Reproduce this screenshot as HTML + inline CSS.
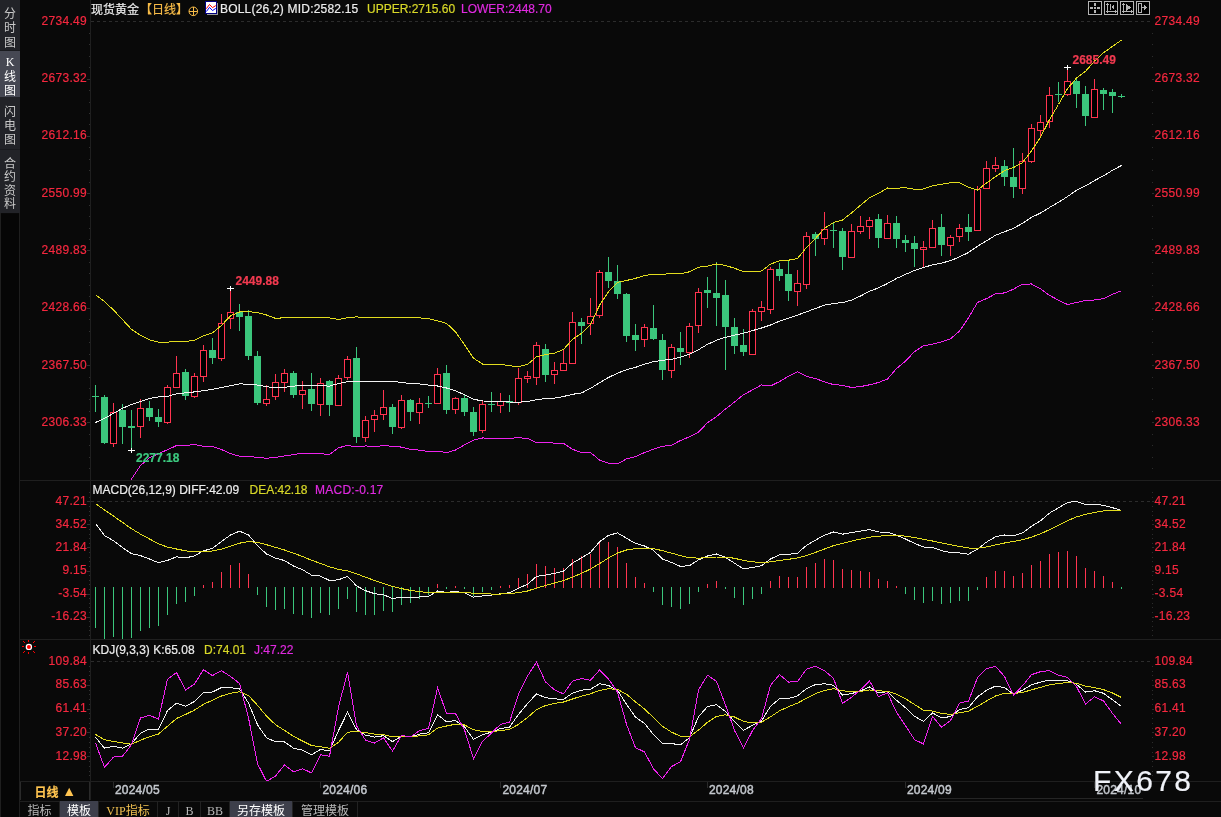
<!DOCTYPE html>
<html><head><meta charset="utf-8"><style>
html,body{margin:0;padding:0;background:#090909;}
#root{position:relative;width:1221px;height:817px;overflow:hidden;background:#090909;font-family:"Liberation Sans","Noto Sans CJK SC",sans-serif;}
.t{position:absolute;white-space:nowrap;font-size:12px;line-height:12px;-webkit-text-stroke:0.2px currentColor;}
.cjk{font-family:"Liberation Sans","Noto Sans CJK SC","WenQuanYi Zen Hei",sans-serif;line-height:14px;}
.side{position:absolute;left:0;width:20px;background:#222328;color:#c8c8c8;font-family:"Liberation Sans","Noto Sans CJK SC",sans-serif;font-size:12px;line-height:13.4px;text-align:center;box-sizing:border-box;}
.side.sel{background:#464853;color:#fff;}
.sc{position:absolute;left:0;width:20px;height:14px;line-height:14px;text-align:center;font-family:"Liberation Sans","Noto Sans CJK SC",sans-serif;font-size:12px;}
.bt{position:absolute;top:801px;height:16px;padding-top:1.5px;font-family:"Liberation Serif","Noto Sans CJK SC",serif;font-size:12px;line-height:16px;text-align:center;color:#b8b8b8;box-sizing:border-box;border-right:1px solid #222;}
.bt.sel{background:#3d3f4b;color:#fff;}
</style></head><body><div id="root">
<svg width="1221" height="817" viewBox="0 0 1221 817" style="position:absolute;left:0;top:0">
<defs><clipPath id="cmain"><rect x="91" y="20" width="1060" height="460"/></clipPath><clipPath id="cmacd"><rect x="91" y="481" width="1060" height="158"/></clipPath><clipPath id="ckdj"><rect x="91" y="640" width="1060" height="141"/></clipPath></defs>
<rect x="0" y="0" width="1221" height="817" fill="#090909"/>
<g shape-rendering="crispEdges" fill="#1f1f1f">
<rect x="19" y="213" width="1" height="604"/>
<rect x="0" y="213" width="1" height="604"/>
<rect x="90" y="0" width="1" height="800"/>
<rect x="20" y="480" width="1201" height="1"/>
<rect x="20" y="639" width="1201" height="1"/>
<rect x="20" y="781" width="1201" height="1"/>
<rect x="20" y="801" width="1201" height="1"/>
<rect x="938" y="798" width="205" height="1" fill="#252525"/>
</g>
<rect x="1" y="214" width="18" height="603" fill="#060606"/>
<line x1="91" y1="21.5" x2="1150" y2="21.5" stroke="#2c2c2c" stroke-width="1" stroke-dasharray="3,3" shape-rendering="crispEdges"/>
<line x1="91" y1="501.5" x2="1150" y2="501.5" stroke="#2c2c2c" stroke-width="1" stroke-dasharray="3,3" shape-rendering="crispEdges"/>
<line x1="91" y1="661.5" x2="1150" y2="661.5" stroke="#2c2c2c" stroke-width="1" stroke-dasharray="3,3" shape-rendering="crispEdges"/>
<g shape-rendering="crispEdges" fill="#3a3a3a">
<rect x="89" y="33" width="1" height="1" fill="#303030"/>
<rect x="1152" y="33" width="1" height="1" fill="#2c2c2c"/>
<rect x="89" y="44" width="1" height="1" fill="#303030"/>
<rect x="1152" y="44" width="1" height="1" fill="#2c2c2c"/>
<rect x="89" y="56" width="1" height="1" fill="#303030"/>
<rect x="1152" y="56" width="1" height="1" fill="#2c2c2c"/>
<rect x="89" y="67" width="1" height="1" fill="#303030"/>
<rect x="1152" y="67" width="1" height="1" fill="#2c2c2c"/>
<rect x="87" y="79" width="3" height="1" fill="#303030"/>
<rect x="1152" y="79" width="2" height="1" fill="#2c2c2c"/>
<rect x="89" y="90" width="1" height="1" fill="#303030"/>
<rect x="1152" y="90" width="1" height="1" fill="#2c2c2c"/>
<rect x="89" y="102" width="1" height="1" fill="#303030"/>
<rect x="1152" y="102" width="1" height="1" fill="#2c2c2c"/>
<rect x="89" y="113" width="1" height="1" fill="#303030"/>
<rect x="1152" y="113" width="1" height="1" fill="#2c2c2c"/>
<rect x="89" y="124" width="1" height="1" fill="#303030"/>
<rect x="1152" y="124" width="1" height="1" fill="#2c2c2c"/>
<rect x="87" y="136" width="3" height="1" fill="#303030"/>
<rect x="1152" y="136" width="2" height="1" fill="#2c2c2c"/>
<rect x="89" y="147" width="1" height="1" fill="#303030"/>
<rect x="1152" y="147" width="1" height="1" fill="#2c2c2c"/>
<rect x="89" y="159" width="1" height="1" fill="#303030"/>
<rect x="1152" y="159" width="1" height="1" fill="#2c2c2c"/>
<rect x="89" y="170" width="1" height="1" fill="#303030"/>
<rect x="1152" y="170" width="1" height="1" fill="#2c2c2c"/>
<rect x="89" y="182" width="1" height="1" fill="#303030"/>
<rect x="1152" y="182" width="1" height="1" fill="#2c2c2c"/>
<rect x="87" y="193" width="3" height="1" fill="#303030"/>
<rect x="1152" y="193" width="2" height="1" fill="#2c2c2c"/>
<rect x="89" y="205" width="1" height="1" fill="#303030"/>
<rect x="1152" y="205" width="1" height="1" fill="#2c2c2c"/>
<rect x="89" y="216" width="1" height="1" fill="#303030"/>
<rect x="1152" y="216" width="1" height="1" fill="#2c2c2c"/>
<rect x="89" y="228" width="1" height="1" fill="#303030"/>
<rect x="1152" y="228" width="1" height="1" fill="#2c2c2c"/>
<rect x="89" y="239" width="1" height="1" fill="#303030"/>
<rect x="1152" y="239" width="1" height="1" fill="#2c2c2c"/>
<rect x="87" y="250" width="3" height="1" fill="#303030"/>
<rect x="1152" y="250" width="2" height="1" fill="#2c2c2c"/>
<rect x="89" y="262" width="1" height="1" fill="#303030"/>
<rect x="1152" y="262" width="1" height="1" fill="#2c2c2c"/>
<rect x="89" y="273" width="1" height="1" fill="#303030"/>
<rect x="1152" y="273" width="1" height="1" fill="#2c2c2c"/>
<rect x="89" y="285" width="1" height="1" fill="#303030"/>
<rect x="1152" y="285" width="1" height="1" fill="#2c2c2c"/>
<rect x="89" y="296" width="1" height="1" fill="#303030"/>
<rect x="1152" y="296" width="1" height="1" fill="#2c2c2c"/>
<rect x="87" y="308" width="3" height="1" fill="#303030"/>
<rect x="1152" y="308" width="2" height="1" fill="#2c2c2c"/>
<rect x="89" y="319" width="1" height="1" fill="#303030"/>
<rect x="1152" y="319" width="1" height="1" fill="#2c2c2c"/>
<rect x="89" y="331" width="1" height="1" fill="#303030"/>
<rect x="1152" y="331" width="1" height="1" fill="#2c2c2c"/>
<rect x="89" y="342" width="1" height="1" fill="#303030"/>
<rect x="1152" y="342" width="1" height="1" fill="#2c2c2c"/>
<rect x="89" y="354" width="1" height="1" fill="#303030"/>
<rect x="1152" y="354" width="1" height="1" fill="#2c2c2c"/>
<rect x="87" y="365" width="3" height="1" fill="#303030"/>
<rect x="1152" y="365" width="2" height="1" fill="#2c2c2c"/>
<rect x="89" y="377" width="1" height="1" fill="#303030"/>
<rect x="1152" y="377" width="1" height="1" fill="#2c2c2c"/>
<rect x="89" y="388" width="1" height="1" fill="#303030"/>
<rect x="1152" y="388" width="1" height="1" fill="#2c2c2c"/>
<rect x="89" y="399" width="1" height="1" fill="#303030"/>
<rect x="1152" y="399" width="1" height="1" fill="#2c2c2c"/>
<rect x="89" y="411" width="1" height="1" fill="#303030"/>
<rect x="1152" y="411" width="1" height="1" fill="#2c2c2c"/>
<rect x="87" y="422" width="3" height="1" fill="#303030"/>
<rect x="1152" y="422" width="2" height="1" fill="#2c2c2c"/>
<rect x="89" y="434" width="1" height="1" fill="#303030"/>
<rect x="1152" y="434" width="1" height="1" fill="#2c2c2c"/>
<rect x="89" y="445" width="1" height="1" fill="#303030"/>
<rect x="1152" y="445" width="1" height="1" fill="#2c2c2c"/>
<rect x="89" y="457" width="1" height="1" fill="#303030"/>
<rect x="1152" y="457" width="1" height="1" fill="#2c2c2c"/>
<rect x="89" y="468" width="1" height="1" fill="#303030"/>
<rect x="1152" y="468" width="1" height="1" fill="#2c2c2c"/>
<rect x="89" y="492" width="1" height="1" fill="#303030"/>
<rect x="1152" y="492" width="1" height="1" fill="#2c2c2c"/>
<rect x="89" y="497" width="1" height="1" fill="#303030"/>
<rect x="1152" y="497" width="1" height="1" fill="#2c2c2c"/>
<rect x="87" y="501" width="3" height="1" fill="#303030"/>
<rect x="1152" y="501" width="2" height="1" fill="#2c2c2c"/>
<rect x="89" y="506" width="1" height="1" fill="#303030"/>
<rect x="1152" y="506" width="1" height="1" fill="#2c2c2c"/>
<rect x="89" y="511" width="1" height="1" fill="#303030"/>
<rect x="1152" y="511" width="1" height="1" fill="#2c2c2c"/>
<rect x="89" y="515" width="1" height="1" fill="#303030"/>
<rect x="1152" y="515" width="1" height="1" fill="#2c2c2c"/>
<rect x="89" y="520" width="1" height="1" fill="#303030"/>
<rect x="1152" y="520" width="1" height="1" fill="#2c2c2c"/>
<rect x="87" y="524" width="3" height="1" fill="#303030"/>
<rect x="1152" y="524" width="2" height="1" fill="#2c2c2c"/>
<rect x="89" y="529" width="1" height="1" fill="#303030"/>
<rect x="1152" y="529" width="1" height="1" fill="#2c2c2c"/>
<rect x="89" y="534" width="1" height="1" fill="#303030"/>
<rect x="1152" y="534" width="1" height="1" fill="#2c2c2c"/>
<rect x="89" y="538" width="1" height="1" fill="#303030"/>
<rect x="1152" y="538" width="1" height="1" fill="#2c2c2c"/>
<rect x="89" y="543" width="1" height="1" fill="#303030"/>
<rect x="1152" y="543" width="1" height="1" fill="#2c2c2c"/>
<rect x="87" y="547" width="3" height="1" fill="#303030"/>
<rect x="1152" y="547" width="2" height="1" fill="#2c2c2c"/>
<rect x="89" y="552" width="1" height="1" fill="#303030"/>
<rect x="1152" y="552" width="1" height="1" fill="#2c2c2c"/>
<rect x="89" y="557" width="1" height="1" fill="#303030"/>
<rect x="1152" y="557" width="1" height="1" fill="#2c2c2c"/>
<rect x="89" y="561" width="1" height="1" fill="#303030"/>
<rect x="1152" y="561" width="1" height="1" fill="#2c2c2c"/>
<rect x="89" y="566" width="1" height="1" fill="#303030"/>
<rect x="1152" y="566" width="1" height="1" fill="#2c2c2c"/>
<rect x="87" y="571" width="3" height="1" fill="#303030"/>
<rect x="1152" y="571" width="2" height="1" fill="#2c2c2c"/>
<rect x="89" y="575" width="1" height="1" fill="#303030"/>
<rect x="1152" y="575" width="1" height="1" fill="#2c2c2c"/>
<rect x="89" y="580" width="1" height="1" fill="#303030"/>
<rect x="1152" y="580" width="1" height="1" fill="#2c2c2c"/>
<rect x="89" y="584" width="1" height="1" fill="#303030"/>
<rect x="1152" y="584" width="1" height="1" fill="#2c2c2c"/>
<rect x="89" y="589" width="1" height="1" fill="#303030"/>
<rect x="1152" y="589" width="1" height="1" fill="#2c2c2c"/>
<rect x="87" y="594" width="3" height="1" fill="#303030"/>
<rect x="1152" y="594" width="2" height="1" fill="#2c2c2c"/>
<rect x="89" y="598" width="1" height="1" fill="#303030"/>
<rect x="1152" y="598" width="1" height="1" fill="#2c2c2c"/>
<rect x="89" y="603" width="1" height="1" fill="#303030"/>
<rect x="1152" y="603" width="1" height="1" fill="#2c2c2c"/>
<rect x="89" y="607" width="1" height="1" fill="#303030"/>
<rect x="1152" y="607" width="1" height="1" fill="#2c2c2c"/>
<rect x="89" y="612" width="1" height="1" fill="#303030"/>
<rect x="1152" y="612" width="1" height="1" fill="#2c2c2c"/>
<rect x="87" y="617" width="3" height="1" fill="#303030"/>
<rect x="1152" y="617" width="2" height="1" fill="#2c2c2c"/>
<rect x="89" y="621" width="1" height="1" fill="#303030"/>
<rect x="1152" y="621" width="1" height="1" fill="#2c2c2c"/>
<rect x="89" y="626" width="1" height="1" fill="#303030"/>
<rect x="1152" y="626" width="1" height="1" fill="#2c2c2c"/>
<rect x="89" y="630" width="1" height="1" fill="#303030"/>
<rect x="1152" y="630" width="1" height="1" fill="#2c2c2c"/>
<rect x="89" y="635" width="1" height="1" fill="#303030"/>
<rect x="1152" y="635" width="1" height="1" fill="#2c2c2c"/>
<rect x="89" y="666" width="1" height="1" fill="#303030"/>
<rect x="1152" y="666" width="1" height="1" fill="#2c2c2c"/>
<rect x="89" y="671" width="1" height="1" fill="#303030"/>
<rect x="1152" y="671" width="1" height="1" fill="#2c2c2c"/>
<rect x="89" y="675" width="1" height="1" fill="#303030"/>
<rect x="1152" y="675" width="1" height="1" fill="#2c2c2c"/>
<rect x="89" y="680" width="1" height="1" fill="#303030"/>
<rect x="1152" y="680" width="1" height="1" fill="#2c2c2c"/>
<rect x="87" y="685" width="3" height="1" fill="#303030"/>
<rect x="1152" y="685" width="2" height="1" fill="#2c2c2c"/>
<rect x="89" y="690" width="1" height="1" fill="#303030"/>
<rect x="1152" y="690" width="1" height="1" fill="#2c2c2c"/>
<rect x="89" y="694" width="1" height="1" fill="#303030"/>
<rect x="1152" y="694" width="1" height="1" fill="#2c2c2c"/>
<rect x="89" y="699" width="1" height="1" fill="#303030"/>
<rect x="1152" y="699" width="1" height="1" fill="#2c2c2c"/>
<rect x="89" y="704" width="1" height="1" fill="#303030"/>
<rect x="1152" y="704" width="1" height="1" fill="#2c2c2c"/>
<rect x="87" y="709" width="3" height="1" fill="#303030"/>
<rect x="1152" y="709" width="2" height="1" fill="#2c2c2c"/>
<rect x="89" y="713" width="1" height="1" fill="#303030"/>
<rect x="1152" y="713" width="1" height="1" fill="#2c2c2c"/>
<rect x="89" y="718" width="1" height="1" fill="#303030"/>
<rect x="1152" y="718" width="1" height="1" fill="#2c2c2c"/>
<rect x="89" y="723" width="1" height="1" fill="#303030"/>
<rect x="1152" y="723" width="1" height="1" fill="#2c2c2c"/>
<rect x="89" y="728" width="1" height="1" fill="#303030"/>
<rect x="1152" y="728" width="1" height="1" fill="#2c2c2c"/>
<rect x="87" y="732" width="3" height="1" fill="#303030"/>
<rect x="1152" y="732" width="2" height="1" fill="#2c2c2c"/>
<rect x="89" y="737" width="1" height="1" fill="#303030"/>
<rect x="1152" y="737" width="1" height="1" fill="#2c2c2c"/>
<rect x="89" y="742" width="1" height="1" fill="#303030"/>
<rect x="1152" y="742" width="1" height="1" fill="#2c2c2c"/>
<rect x="89" y="747" width="1" height="1" fill="#303030"/>
<rect x="1152" y="747" width="1" height="1" fill="#2c2c2c"/>
<rect x="89" y="752" width="1" height="1" fill="#303030"/>
<rect x="1152" y="752" width="1" height="1" fill="#2c2c2c"/>
<rect x="87" y="756" width="3" height="1" fill="#303030"/>
<rect x="1152" y="756" width="2" height="1" fill="#2c2c2c"/>
<rect x="89" y="761" width="1" height="1" fill="#303030"/>
<rect x="1152" y="761" width="1" height="1" fill="#2c2c2c"/>
<rect x="89" y="766" width="1" height="1" fill="#303030"/>
<rect x="1152" y="766" width="1" height="1" fill="#2c2c2c"/>
<rect x="89" y="771" width="1" height="1" fill="#303030"/>
<rect x="1152" y="771" width="1" height="1" fill="#2c2c2c"/>
<rect x="89" y="775" width="1" height="1" fill="#303030"/>
<rect x="1152" y="775" width="1" height="1" fill="#2c2c2c"/>
</g>
<g shape-rendering="crispEdges">
<rect x="95" y="385" width="1" height="27" fill="#3bc67c"/>
<rect x="92" y="396" width="7" height="1" fill="#3bc67c"/>
<rect x="104" y="395" width="1" height="49" fill="#3bc67c"/>
<rect x="101" y="397" width="7" height="46" fill="#3bc67c"/>
<rect x="113" y="403" width="1" height="9" fill="#ff3450"/>
<rect x="113" y="443" width="1" height="4" fill="#ff3450"/>
<rect x="110.5" y="412.5" width="6" height="31" fill="#000" stroke="#ff3450" stroke-width="1"/>
<rect x="122" y="404" width="1" height="40" fill="#3bc67c"/>
<rect x="119" y="410" width="7" height="17" fill="#3bc67c"/>
<rect x="131" y="410" width="1" height="41" fill="#3bc67c"/>
<rect x="128" y="426" width="7" height="2" fill="#3bc67c"/>
<rect x="140" y="399" width="1" height="9" fill="#ff3450"/>
<rect x="140" y="426" width="1" height="12" fill="#ff3450"/>
<rect x="137.5" y="408.5" width="6" height="18" fill="#000" stroke="#ff3450" stroke-width="1"/>
<rect x="149" y="401" width="1" height="20" fill="#3bc67c"/>
<rect x="146" y="408" width="7" height="9" fill="#3bc67c"/>
<rect x="158" y="409" width="1" height="18" fill="#3bc67c"/>
<rect x="155" y="417" width="7" height="5" fill="#3bc67c"/>
<rect x="167" y="385" width="1" height="2" fill="#ff3450"/>
<rect x="167" y="422" width="1" height="2" fill="#ff3450"/>
<rect x="164.5" y="387.5" width="6" height="35" fill="#000" stroke="#ff3450" stroke-width="1"/>
<rect x="176" y="356" width="1" height="17" fill="#ff3450"/>
<rect x="173.5" y="373.5" width="6" height="14" fill="#000" stroke="#ff3450" stroke-width="1"/>
<rect x="185" y="369" width="1" height="31" fill="#3bc67c"/>
<rect x="182" y="372" width="7" height="24" fill="#3bc67c"/>
<rect x="194" y="373" width="1" height="3" fill="#ff3450"/>
<rect x="194" y="396" width="1" height="2" fill="#ff3450"/>
<rect x="191.5" y="376.5" width="6" height="20" fill="#000" stroke="#ff3450" stroke-width="1"/>
<rect x="203" y="345" width="1" height="5" fill="#ff3450"/>
<rect x="203" y="376" width="1" height="6" fill="#ff3450"/>
<rect x="200.5" y="350.5" width="6" height="26" fill="#000" stroke="#ff3450" stroke-width="1"/>
<rect x="212" y="338" width="1" height="26" fill="#3bc67c"/>
<rect x="209" y="350" width="7" height="8" fill="#3bc67c"/>
<rect x="221" y="314" width="1" height="9" fill="#ff3450"/>
<rect x="221" y="358" width="1" height="3" fill="#ff3450"/>
<rect x="218.5" y="323.5" width="6" height="35" fill="#000" stroke="#ff3450" stroke-width="1"/>
<rect x="230" y="288" width="1" height="24" fill="#ff3450"/>
<rect x="230" y="318" width="1" height="11" fill="#ff3450"/>
<rect x="227.5" y="312.5" width="6" height="6" fill="#000" stroke="#ff3450" stroke-width="1"/>
<rect x="239" y="304" width="1" height="27" fill="#3bc67c"/>
<rect x="236" y="312" width="7" height="5" fill="#3bc67c"/>
<rect x="248" y="310" width="1" height="50" fill="#3bc67c"/>
<rect x="245" y="316" width="7" height="40" fill="#3bc67c"/>
<rect x="257" y="351" width="1" height="54" fill="#3bc67c"/>
<rect x="254" y="356" width="7" height="47" fill="#3bc67c"/>
<rect x="266" y="385" width="1" height="14" fill="#ff3450"/>
<rect x="266" y="403" width="1" height="3" fill="#ff3450"/>
<rect x="263.5" y="399.5" width="6" height="4" fill="#000" stroke="#ff3450" stroke-width="1"/>
<rect x="275" y="374" width="1" height="8" fill="#ff3450"/>
<rect x="275" y="396" width="1" height="4" fill="#ff3450"/>
<rect x="272.5" y="382.5" width="6" height="14" fill="#000" stroke="#ff3450" stroke-width="1"/>
<rect x="284" y="369" width="1" height="4" fill="#ff3450"/>
<rect x="284" y="382" width="1" height="10" fill="#ff3450"/>
<rect x="281.5" y="373.5" width="6" height="9" fill="#000" stroke="#ff3450" stroke-width="1"/>
<rect x="293" y="371" width="1" height="27" fill="#3bc67c"/>
<rect x="290" y="373" width="7" height="22" fill="#3bc67c"/>
<rect x="302" y="381" width="1" height="9" fill="#ff3450"/>
<rect x="302" y="394" width="1" height="15" fill="#ff3450"/>
<rect x="299.5" y="390.5" width="6" height="4" fill="#000" stroke="#ff3450" stroke-width="1"/>
<rect x="311" y="373" width="1" height="38" fill="#3bc67c"/>
<rect x="308" y="389" width="7" height="15" fill="#3bc67c"/>
<rect x="320" y="378" width="1" height="5" fill="#ff3450"/>
<rect x="320" y="404" width="1" height="12" fill="#ff3450"/>
<rect x="317.5" y="383.5" width="6" height="21" fill="#000" stroke="#ff3450" stroke-width="1"/>
<rect x="329" y="380" width="1" height="36" fill="#3bc67c"/>
<rect x="326" y="381" width="7" height="24" fill="#3bc67c"/>
<rect x="338" y="375" width="1" height="3" fill="#ff3450"/>
<rect x="335.5" y="378.5" width="6" height="27" fill="#000" stroke="#ff3450" stroke-width="1"/>
<rect x="347" y="356" width="1" height="3" fill="#ff3450"/>
<rect x="347" y="377" width="1" height="3" fill="#ff3450"/>
<rect x="344.5" y="359.5" width="6" height="18" fill="#000" stroke="#ff3450" stroke-width="1"/>
<rect x="356" y="347" width="1" height="96" fill="#3bc67c"/>
<rect x="353" y="358" width="7" height="79" fill="#3bc67c"/>
<rect x="365" y="416" width="1" height="4" fill="#ff3450"/>
<rect x="365" y="437" width="1" height="5" fill="#ff3450"/>
<rect x="362.5" y="420.5" width="6" height="17" fill="#000" stroke="#ff3450" stroke-width="1"/>
<rect x="374" y="410" width="1" height="5" fill="#ff3450"/>
<rect x="374" y="419" width="1" height="13" fill="#ff3450"/>
<rect x="371.5" y="415.5" width="6" height="4" fill="#000" stroke="#ff3450" stroke-width="1"/>
<rect x="383" y="390" width="1" height="17" fill="#ff3450"/>
<rect x="383" y="414" width="1" height="6" fill="#ff3450"/>
<rect x="380.5" y="407.5" width="6" height="7" fill="#000" stroke="#ff3450" stroke-width="1"/>
<rect x="392" y="404" width="1" height="30" fill="#3bc67c"/>
<rect x="389" y="407" width="7" height="20" fill="#3bc67c"/>
<rect x="401" y="395" width="1" height="5" fill="#ff3450"/>
<rect x="401" y="427" width="1" height="2" fill="#ff3450"/>
<rect x="398.5" y="400.5" width="6" height="27" fill="#000" stroke="#ff3450" stroke-width="1"/>
<rect x="410" y="399" width="1" height="22" fill="#3bc67c"/>
<rect x="407" y="400" width="7" height="12" fill="#3bc67c"/>
<rect x="419" y="398" width="1" height="5" fill="#ff3450"/>
<rect x="419" y="412" width="1" height="12" fill="#ff3450"/>
<rect x="416.5" y="403.5" width="6" height="9" fill="#000" stroke="#ff3450" stroke-width="1"/>
<rect x="428" y="396" width="1" height="12" fill="#3bc67c"/>
<rect x="425" y="403" width="7" height="1" fill="#3bc67c"/>
<rect x="437" y="368" width="1" height="6" fill="#ff3450"/>
<rect x="434.5" y="374.5" width="6" height="29" fill="#000" stroke="#ff3450" stroke-width="1"/>
<rect x="446" y="365" width="1" height="49" fill="#3bc67c"/>
<rect x="443" y="373" width="7" height="37" fill="#3bc67c"/>
<rect x="455" y="397" width="1" height="1" fill="#ff3450"/>
<rect x="455" y="409" width="1" height="5" fill="#ff3450"/>
<rect x="452.5" y="398.5" width="6" height="11" fill="#000" stroke="#ff3450" stroke-width="1"/>
<rect x="464" y="395" width="1" height="21" fill="#3bc67c"/>
<rect x="461" y="398" width="7" height="14" fill="#3bc67c"/>
<rect x="473" y="407" width="1" height="29" fill="#3bc67c"/>
<rect x="470" y="412" width="7" height="20" fill="#3bc67c"/>
<rect x="482" y="401" width="1" height="3" fill="#ff3450"/>
<rect x="482" y="430" width="1" height="3" fill="#ff3450"/>
<rect x="479.5" y="404.5" width="6" height="26" fill="#000" stroke="#ff3450" stroke-width="1"/>
<rect x="491" y="392" width="1" height="20" fill="#3bc67c"/>
<rect x="488" y="404" width="7" height="1" fill="#3bc67c"/>
<rect x="500" y="393" width="1" height="8" fill="#ff3450"/>
<rect x="500" y="405" width="1" height="8" fill="#ff3450"/>
<rect x="497.5" y="401.5" width="6" height="4" fill="#000" stroke="#ff3450" stroke-width="1"/>
<rect x="509" y="395" width="1" height="17" fill="#3bc67c"/>
<rect x="506" y="401" width="7" height="2" fill="#3bc67c"/>
<rect x="518" y="368" width="1" height="10" fill="#ff3450"/>
<rect x="518" y="402" width="1" height="3" fill="#ff3450"/>
<rect x="515.5" y="378.5" width="6" height="24" fill="#000" stroke="#ff3450" stroke-width="1"/>
<rect x="527" y="371" width="1" height="5" fill="#ff3450"/>
<rect x="527" y="378" width="1" height="5" fill="#ff3450"/>
<rect x="524.5" y="376.5" width="6" height="2" fill="#000" stroke="#ff3450" stroke-width="1"/>
<rect x="536" y="342" width="1" height="3" fill="#ff3450"/>
<rect x="536" y="377" width="1" height="8" fill="#ff3450"/>
<rect x="533.5" y="345.5" width="6" height="32" fill="#000" stroke="#ff3450" stroke-width="1"/>
<rect x="545" y="344" width="1" height="38" fill="#3bc67c"/>
<rect x="542" y="349" width="7" height="26" fill="#3bc67c"/>
<rect x="554" y="362" width="1" height="8" fill="#ff3450"/>
<rect x="554" y="374" width="1" height="10" fill="#ff3450"/>
<rect x="551.5" y="370.5" width="6" height="4" fill="#000" stroke="#ff3450" stroke-width="1"/>
<rect x="563" y="349" width="1" height="14" fill="#ff3450"/>
<rect x="560.5" y="363.5" width="6" height="7" fill="#000" stroke="#ff3450" stroke-width="1"/>
<rect x="572" y="312" width="1" height="10" fill="#ff3450"/>
<rect x="569.5" y="322.5" width="6" height="41" fill="#000" stroke="#ff3450" stroke-width="1"/>
<rect x="581" y="318" width="1" height="26" fill="#3bc67c"/>
<rect x="578" y="322" width="7" height="4" fill="#3bc67c"/>
<rect x="590" y="298" width="1" height="18" fill="#ff3450"/>
<rect x="590" y="323" width="1" height="12" fill="#ff3450"/>
<rect x="587.5" y="316.5" width="6" height="7" fill="#000" stroke="#ff3450" stroke-width="1"/>
<rect x="599" y="270" width="1" height="2" fill="#ff3450"/>
<rect x="599" y="315" width="1" height="3" fill="#ff3450"/>
<rect x="596.5" y="272.5" width="6" height="43" fill="#000" stroke="#ff3450" stroke-width="1"/>
<rect x="608" y="257" width="1" height="31" fill="#3bc67c"/>
<rect x="605" y="272" width="7" height="9" fill="#3bc67c"/>
<rect x="617" y="265" width="1" height="34" fill="#3bc67c"/>
<rect x="614" y="281" width="7" height="13" fill="#3bc67c"/>
<rect x="626" y="293" width="1" height="49" fill="#3bc67c"/>
<rect x="623" y="294" width="7" height="42" fill="#3bc67c"/>
<rect x="635" y="324" width="1" height="27" fill="#3bc67c"/>
<rect x="632" y="335" width="7" height="5" fill="#3bc67c"/>
<rect x="644" y="324" width="1" height="3" fill="#ff3450"/>
<rect x="644" y="339" width="1" height="8" fill="#ff3450"/>
<rect x="641.5" y="327.5" width="6" height="12" fill="#000" stroke="#ff3450" stroke-width="1"/>
<rect x="653" y="305" width="1" height="35" fill="#3bc67c"/>
<rect x="650" y="328" width="7" height="11" fill="#3bc67c"/>
<rect x="662" y="334" width="1" height="46" fill="#3bc67c"/>
<rect x="659" y="340" width="7" height="30" fill="#3bc67c"/>
<rect x="671" y="344" width="1" height="3" fill="#ff3450"/>
<rect x="671" y="370" width="1" height="8" fill="#ff3450"/>
<rect x="668.5" y="347.5" width="6" height="23" fill="#000" stroke="#ff3450" stroke-width="1"/>
<rect x="680" y="332" width="1" height="33" fill="#3bc67c"/>
<rect x="677" y="348" width="7" height="4" fill="#3bc67c"/>
<rect x="689" y="323" width="1" height="3" fill="#ff3450"/>
<rect x="689" y="352" width="1" height="6" fill="#ff3450"/>
<rect x="686.5" y="326.5" width="6" height="26" fill="#000" stroke="#ff3450" stroke-width="1"/>
<rect x="698" y="288" width="1" height="4" fill="#ff3450"/>
<rect x="698" y="325" width="1" height="8" fill="#ff3450"/>
<rect x="695.5" y="292.5" width="6" height="33" fill="#000" stroke="#ff3450" stroke-width="1"/>
<rect x="707" y="277" width="1" height="31" fill="#3bc67c"/>
<rect x="704" y="290" width="7" height="3" fill="#3bc67c"/>
<rect x="716" y="262" width="1" height="64" fill="#3bc67c"/>
<rect x="713" y="293" width="7" height="5" fill="#3bc67c"/>
<rect x="725" y="280" width="1" height="90" fill="#3bc67c"/>
<rect x="722" y="295" width="7" height="32" fill="#3bc67c"/>
<rect x="734" y="318" width="1" height="36" fill="#3bc67c"/>
<rect x="731" y="327" width="7" height="19" fill="#3bc67c"/>
<rect x="743" y="329" width="1" height="27" fill="#3bc67c"/>
<rect x="740" y="345" width="7" height="7" fill="#3bc67c"/>
<rect x="752" y="309" width="1" height="2" fill="#ff3450"/>
<rect x="749.5" y="311.5" width="6" height="43" fill="#000" stroke="#ff3450" stroke-width="1"/>
<rect x="761" y="301" width="1" height="6" fill="#ff3450"/>
<rect x="761" y="311" width="1" height="10" fill="#ff3450"/>
<rect x="758.5" y="307.5" width="6" height="4" fill="#000" stroke="#ff3450" stroke-width="1"/>
<rect x="770" y="267" width="1" height="2" fill="#ff3450"/>
<rect x="770" y="309" width="1" height="5" fill="#ff3450"/>
<rect x="767.5" y="269.5" width="6" height="40" fill="#000" stroke="#ff3450" stroke-width="1"/>
<rect x="779" y="263" width="1" height="18" fill="#3bc67c"/>
<rect x="776" y="269" width="7" height="7" fill="#3bc67c"/>
<rect x="788" y="261" width="1" height="40" fill="#3bc67c"/>
<rect x="785" y="274" width="7" height="17" fill="#3bc67c"/>
<rect x="797" y="270" width="1" height="13" fill="#ff3450"/>
<rect x="797" y="291" width="1" height="15" fill="#ff3450"/>
<rect x="794.5" y="283.5" width="6" height="8" fill="#000" stroke="#ff3450" stroke-width="1"/>
<rect x="806" y="232" width="1" height="4" fill="#ff3450"/>
<rect x="806" y="284" width="1" height="5" fill="#ff3450"/>
<rect x="803.5" y="236.5" width="6" height="48" fill="#000" stroke="#ff3450" stroke-width="1"/>
<rect x="815" y="232" width="1" height="24" fill="#3bc67c"/>
<rect x="812" y="234" width="7" height="5" fill="#3bc67c"/>
<rect x="824" y="212" width="1" height="17" fill="#ff3450"/>
<rect x="824" y="238" width="1" height="7" fill="#ff3450"/>
<rect x="821.5" y="229.5" width="6" height="9" fill="#000" stroke="#ff3450" stroke-width="1"/>
<rect x="833" y="223" width="1" height="25" fill="#3bc67c"/>
<rect x="830" y="230" width="7" height="1" fill="#3bc67c"/>
<rect x="842" y="228" width="1" height="42" fill="#3bc67c"/>
<rect x="839" y="231" width="7" height="26" fill="#3bc67c"/>
<rect x="851" y="224" width="1" height="7" fill="#ff3450"/>
<rect x="848.5" y="231.5" width="6" height="26" fill="#000" stroke="#ff3450" stroke-width="1"/>
<rect x="860" y="216" width="1" height="10" fill="#ff3450"/>
<rect x="860" y="231" width="1" height="3" fill="#ff3450"/>
<rect x="857.5" y="226.5" width="6" height="5" fill="#000" stroke="#ff3450" stroke-width="1"/>
<rect x="869" y="217" width="1" height="3" fill="#ff3450"/>
<rect x="869" y="226" width="1" height="13" fill="#ff3450"/>
<rect x="866.5" y="220.5" width="6" height="6" fill="#000" stroke="#ff3450" stroke-width="1"/>
<rect x="878" y="214" width="1" height="34" fill="#3bc67c"/>
<rect x="875" y="219" width="7" height="19" fill="#3bc67c"/>
<rect x="887" y="215" width="1" height="8" fill="#ff3450"/>
<rect x="884.5" y="223.5" width="6" height="15" fill="#000" stroke="#ff3450" stroke-width="1"/>
<rect x="896" y="216" width="1" height="32" fill="#3bc67c"/>
<rect x="893" y="223" width="7" height="16" fill="#3bc67c"/>
<rect x="905" y="235" width="1" height="17" fill="#3bc67c"/>
<rect x="902" y="240" width="7" height="3" fill="#3bc67c"/>
<rect x="914" y="236" width="1" height="31" fill="#3bc67c"/>
<rect x="911" y="243" width="7" height="6" fill="#3bc67c"/>
<rect x="923" y="241" width="1" height="6" fill="#ff3450"/>
<rect x="923" y="249" width="1" height="19" fill="#ff3450"/>
<rect x="920.5" y="247.5" width="6" height="2" fill="#000" stroke="#ff3450" stroke-width="1"/>
<rect x="932" y="220" width="1" height="8" fill="#ff3450"/>
<rect x="929.5" y="228.5" width="6" height="19" fill="#000" stroke="#ff3450" stroke-width="1"/>
<rect x="941" y="214" width="1" height="42" fill="#3bc67c"/>
<rect x="938" y="227" width="7" height="18" fill="#3bc67c"/>
<rect x="950" y="235" width="1" height="2" fill="#ff3450"/>
<rect x="950" y="245" width="1" height="11" fill="#ff3450"/>
<rect x="947.5" y="237.5" width="6" height="8" fill="#000" stroke="#ff3450" stroke-width="1"/>
<rect x="959" y="224" width="1" height="4" fill="#ff3450"/>
<rect x="959" y="236" width="1" height="6" fill="#ff3450"/>
<rect x="956.5" y="228.5" width="6" height="8" fill="#000" stroke="#ff3450" stroke-width="1"/>
<rect x="968" y="214" width="1" height="27" fill="#3bc67c"/>
<rect x="965" y="227" width="7" height="5" fill="#3bc67c"/>
<rect x="977" y="186" width="1" height="3" fill="#ff3450"/>
<rect x="974.5" y="189.5" width="6" height="41" fill="#000" stroke="#ff3450" stroke-width="1"/>
<rect x="986" y="161" width="1" height="7" fill="#ff3450"/>
<rect x="983.5" y="168.5" width="6" height="20" fill="#000" stroke="#ff3450" stroke-width="1"/>
<rect x="995" y="157" width="1" height="8" fill="#ff3450"/>
<rect x="995" y="168" width="1" height="4" fill="#ff3450"/>
<rect x="992.5" y="165.5" width="6" height="3" fill="#000" stroke="#ff3450" stroke-width="1"/>
<rect x="1004" y="160" width="1" height="26" fill="#3bc67c"/>
<rect x="1001" y="166" width="7" height="11" fill="#3bc67c"/>
<rect x="1013" y="148" width="1" height="50" fill="#3bc67c"/>
<rect x="1010" y="177" width="7" height="10" fill="#3bc67c"/>
<rect x="1022" y="153" width="1" height="8" fill="#ff3450"/>
<rect x="1022" y="188" width="1" height="6" fill="#ff3450"/>
<rect x="1019.5" y="161.5" width="6" height="27" fill="#000" stroke="#ff3450" stroke-width="1"/>
<rect x="1031" y="124" width="1" height="4" fill="#ff3450"/>
<rect x="1031" y="161" width="1" height="2" fill="#ff3450"/>
<rect x="1028.5" y="128.5" width="6" height="33" fill="#000" stroke="#ff3450" stroke-width="1"/>
<rect x="1040" y="115" width="1" height="7" fill="#ff3450"/>
<rect x="1040" y="130" width="1" height="6" fill="#ff3450"/>
<rect x="1037.5" y="122.5" width="6" height="8" fill="#000" stroke="#ff3450" stroke-width="1"/>
<rect x="1049" y="87" width="1" height="8" fill="#ff3450"/>
<rect x="1049" y="121" width="1" height="7" fill="#ff3450"/>
<rect x="1046.5" y="95.5" width="6" height="26" fill="#000" stroke="#ff3450" stroke-width="1"/>
<rect x="1058" y="82" width="1" height="20" fill="#3bc67c"/>
<rect x="1055" y="94" width="7" height="1" fill="#3bc67c"/>
<rect x="1067" y="67" width="1" height="14" fill="#ff3450"/>
<rect x="1067" y="94" width="1" height="2" fill="#ff3450"/>
<rect x="1064.5" y="81.5" width="6" height="13" fill="#000" stroke="#ff3450" stroke-width="1"/>
<rect x="1076" y="79" width="1" height="29" fill="#3bc67c"/>
<rect x="1073" y="81" width="7" height="13" fill="#3bc67c"/>
<rect x="1085" y="86" width="1" height="40" fill="#3bc67c"/>
<rect x="1082" y="94" width="7" height="22" fill="#3bc67c"/>
<rect x="1094" y="79" width="1" height="10" fill="#ff3450"/>
<rect x="1091.5" y="89.5" width="6" height="28" fill="#000" stroke="#ff3450" stroke-width="1"/>
<rect x="1103" y="88" width="1" height="22" fill="#3bc67c"/>
<rect x="1100" y="90" width="7" height="4" fill="#3bc67c"/>
<rect x="1112" y="89" width="1" height="24" fill="#3bc67c"/>
<rect x="1109" y="92" width="7" height="4" fill="#3bc67c"/>
<rect x="1121" y="94" width="1" height="4" fill="#3bc67c"/>
<rect x="1118" y="96" width="7" height="1" fill="#3bc67c"/>
</g>
<polyline points="95.5,294.7 104.5,301.6 113.5,310.0 122.5,319.6 131.5,329.4 140.5,335.4 149.5,339.9 158.5,342.1 167.5,342.1 176.5,341.4 185.5,341.4 194.5,340.3 203.5,335.9 212.5,332.9 221.5,325.4 230.5,315.8 239.5,312.0 248.5,311.7 257.5,312.6 266.5,315.0 275.5,318.4 284.5,317.7 293.5,317.7 302.5,317.7 311.5,317.7 320.5,317.9 329.5,317.9 338.5,319.4 347.5,317.8 356.5,316.9 365.5,317.4 374.5,317.2 383.5,317.5 392.5,317.2 401.5,317.3 410.5,317.9 419.5,317.9 428.5,318.6 437.5,320.9 446.5,323.3 455.5,331.8 464.5,344.7 473.5,358.2 482.5,364.0 491.5,364.0 500.5,364.1 509.5,365.8 518.5,366.5 527.5,364.5 536.5,356.8 545.5,354.6 554.5,353.1 563.5,349.5 572.5,339.4 581.5,333.4 590.5,324.3 599.5,305.4 608.5,291.8 617.5,282.3 626.5,280.5 635.5,278.3 644.5,275.6 653.5,274.1 662.5,274.4 671.5,273.4 680.5,273.7 689.5,271.8 698.5,267.2 707.5,266.1 716.5,264.0 725.5,265.5 734.5,268.2 743.5,271.7 752.5,271.4 761.5,271.0 770.5,264.1 779.5,260.9 788.5,260.2 797.5,258.5 806.5,247.4 815.5,238.3 824.5,228.4 833.5,222.5 842.5,220.0 851.5,212.9 860.5,205.3 869.5,197.8 878.5,193.3 887.5,188.0 896.5,188.2 905.5,187.7 914.5,189.3 923.5,189.0 932.5,185.7 941.5,184.3 950.5,182.7 959.5,182.7 968.5,187.3 977.5,190.1 986.5,183.0 995.5,176.7 1004.5,170.6 1013.5,167.5 1022.5,162.6 1031.5,150.8 1040.5,137.3 1049.5,119.6 1058.5,104.5 1067.5,88.6 1076.5,78.1 1085.5,71.3 1094.5,61.2 1103.5,52.8 1112.5,46.3 1121.5,40.1" fill="none" stroke="#e2dc1e" stroke-width="1" shape-rendering="crispEdges" clip-path="url(#cmain)"/>
<polyline points="95.5,422.5 104.5,418.3 113.5,413.4 122.5,408.3 131.5,404.4 140.5,401.5 149.5,398.4 158.5,397.0 167.5,396.4 176.5,393.8 185.5,392.9 194.5,391.9 203.5,390.7 212.5,389.3 221.5,387.4 230.5,385.7 239.5,383.9 248.5,384.2 257.5,385.1 266.5,386.6 275.5,387.9 284.5,387.4 293.5,386.1 302.5,385.5 311.5,385.5 320.5,385.8 329.5,386.1 338.5,383.6 347.5,381.6 356.5,382.0 365.5,381.7 374.5,381.9 383.5,381.5 392.5,381.7 401.5,382.2 410.5,383.7 419.5,384.0 428.5,385.1 437.5,386.0 446.5,388.0 455.5,390.9 464.5,394.7 473.5,399.2 482.5,401.0 491.5,401.1 500.5,401.2 509.5,402.0 518.5,402.2 527.5,401.4 536.5,399.7 545.5,398.6 554.5,398.1 563.5,396.5 572.5,394.3 581.5,393.0 590.5,388.4 599.5,382.7 608.5,377.5 617.5,373.2 626.5,369.7 635.5,367.4 644.5,364.1 653.5,361.7 662.5,360.3 671.5,359.3 680.5,357.1 689.5,354.3 698.5,349.7 707.5,344.3 716.5,340.3 725.5,337.3 734.5,335.2 743.5,333.2 752.5,330.6 761.5,328.0 770.5,325.0 779.5,321.2 788.5,318.2 797.5,315.1 806.5,311.8 815.5,308.5 824.5,305.1 833.5,303.5 842.5,302.6 851.5,300.2 860.5,296.0 869.5,291.3 878.5,287.9 887.5,283.5 896.5,278.4 905.5,274.4 914.5,270.5 923.5,267.4 932.5,264.9 941.5,263.1 950.5,260.7 959.5,256.9 968.5,252.5 977.5,246.3 986.5,240.8 995.5,235.3 1004.5,231.8 1013.5,228.3 1022.5,223.3 1031.5,217.4 1040.5,213.0 1049.5,207.5 1058.5,202.3 1067.5,196.6 1076.5,190.3 1085.5,185.9 1094.5,180.6 1103.5,175.8 1112.5,170.3 1121.5,165.4" fill="none" stroke="#f2f2f2" stroke-width="1" shape-rendering="crispEdges" clip-path="url(#cmain)"/>
<polyline points="95.5,519.5 104.5,512.3 113.5,505.1 122.5,495.3 131.5,479.0 140.5,465.6 149.5,457.7 158.5,453.6 167.5,449.7 176.5,445.6 185.5,445.5 194.5,444.5 203.5,446.2 212.5,446.6 221.5,449.5 230.5,453.7 239.5,456.1 248.5,456.5 257.5,457.4 266.5,458.2 275.5,457.4 284.5,456.0 293.5,454.6 302.5,453.2 311.5,453.2 320.5,453.8 329.5,454.4 338.5,447.8 347.5,445.4 356.5,447.0 365.5,445.9 374.5,446.7 383.5,445.5 392.5,446.3 401.5,447.1 410.5,449.5 419.5,450.1 428.5,451.5 437.5,451.1 446.5,452.7 455.5,450.0 464.5,444.8 473.5,440.1 482.5,438.0 491.5,438.1 500.5,438.2 509.5,438.2 518.5,437.8 527.5,438.4 536.5,442.6 545.5,442.5 554.5,443.1 563.5,443.4 572.5,449.2 581.5,452.7 590.5,452.5 599.5,460.0 608.5,463.3 617.5,464.0 626.5,458.9 635.5,456.5 644.5,452.6 653.5,449.2 662.5,446.3 671.5,445.2 680.5,440.5 689.5,436.8 698.5,432.2 707.5,422.6 716.5,416.6 725.5,409.0 734.5,402.1 743.5,394.7 752.5,389.9 761.5,384.9 770.5,386.0 779.5,381.6 788.5,376.2 797.5,371.7 806.5,376.3 815.5,378.6 824.5,381.8 833.5,384.6 842.5,385.3 851.5,387.5 860.5,386.6 869.5,384.8 878.5,382.5 887.5,379.0 896.5,368.6 905.5,361.1 914.5,351.6 923.5,345.8 932.5,344.2 941.5,341.8 950.5,338.8 959.5,331.1 968.5,317.8 977.5,302.4 986.5,298.6 995.5,293.9 1004.5,292.9 1013.5,289.2 1022.5,284.1 1031.5,284.0 1040.5,288.8 1049.5,295.4 1058.5,300.2 1067.5,304.5 1076.5,302.5 1085.5,300.4 1094.5,300.0 1103.5,298.7 1112.5,294.3 1121.5,290.7" fill="none" stroke="#ee22ee" stroke-width="1" shape-rendering="crispEdges" clip-path="url(#cmain)"/>
<g shape-rendering="crispEdges" fill="#ffffff">
<rect x="227" y="288" width="7" height="1"/><rect x="230" y="286" width="1" height="5"/>
<rect x="1064" y="67" width="7" height="1"/><rect x="1067" y="65" width="1" height="5"/>
<rect x="128" y="450" width="7" height="1"/><rect x="131" y="448" width="1" height="5"/>
</g>
<g shape-rendering="crispEdges">
<rect x="95" y="587" width="1" height="41" fill="#3bc67c"/>
<rect x="104" y="587" width="1" height="52" fill="#3bc67c"/>
<rect x="113" y="587" width="1" height="50" fill="#3bc67c"/>
<rect x="122" y="587" width="1" height="52" fill="#3bc67c"/>
<rect x="131" y="587" width="1" height="51" fill="#3bc67c"/>
<rect x="140" y="587" width="1" height="44" fill="#3bc67c"/>
<rect x="149" y="587" width="1" height="41" fill="#3bc67c"/>
<rect x="158" y="587" width="1" height="39" fill="#3bc67c"/>
<rect x="167" y="587" width="1" height="28" fill="#3bc67c"/>
<rect x="176" y="587" width="1" height="17" fill="#3bc67c"/>
<rect x="185" y="587" width="1" height="15" fill="#3bc67c"/>
<rect x="194" y="587" width="1" height="9" fill="#3bc67c"/>
<rect x="203" y="585" width="1" height="3" fill="#ff3450"/>
<rect x="212" y="582" width="1" height="6" fill="#ff3450"/>
<rect x="221" y="572" width="1" height="16" fill="#ff3450"/>
<rect x="230" y="565" width="1" height="23" fill="#ff3450"/>
<rect x="239" y="563" width="1" height="25" fill="#ff3450"/>
<rect x="248" y="574" width="1" height="14" fill="#ff3450"/>
<rect x="257" y="587" width="1" height="8" fill="#3bc67c"/>
<rect x="266" y="587" width="1" height="20" fill="#3bc67c"/>
<rect x="275" y="587" width="1" height="23" fill="#3bc67c"/>
<rect x="284" y="587" width="1" height="22" fill="#3bc67c"/>
<rect x="293" y="587" width="1" height="27" fill="#3bc67c"/>
<rect x="302" y="587" width="1" height="28" fill="#3bc67c"/>
<rect x="311" y="587" width="1" height="31" fill="#3bc67c"/>
<rect x="320" y="587" width="1" height="26" fill="#3bc67c"/>
<rect x="329" y="587" width="1" height="28" fill="#3bc67c"/>
<rect x="338" y="587" width="1" height="22" fill="#3bc67c"/>
<rect x="347" y="587" width="1" height="12" fill="#3bc67c"/>
<rect x="356" y="587" width="1" height="25" fill="#3bc67c"/>
<rect x="365" y="587" width="1" height="28" fill="#3bc67c"/>
<rect x="374" y="587" width="1" height="28" fill="#3bc67c"/>
<rect x="383" y="587" width="1" height="24" fill="#3bc67c"/>
<rect x="392" y="587" width="1" height="25" fill="#3bc67c"/>
<rect x="401" y="587" width="1" height="18" fill="#3bc67c"/>
<rect x="410" y="587" width="1" height="16" fill="#3bc67c"/>
<rect x="419" y="587" width="1" height="12" fill="#3bc67c"/>
<rect x="428" y="587" width="1" height="8" fill="#3bc67c"/>
<rect x="437" y="584" width="1" height="4" fill="#ff3450"/>
<rect x="446" y="587" width="1" height="2" fill="#3bc67c"/>
<rect x="455" y="586" width="1" height="2" fill="#ff3450"/>
<rect x="464" y="587" width="1" height="2" fill="#3bc67c"/>
<rect x="473" y="587" width="1" height="9" fill="#3bc67c"/>
<rect x="482" y="587" width="1" height="5" fill="#3bc67c"/>
<rect x="491" y="587" width="1" height="3" fill="#3bc67c"/>
<rect x="500" y="586" width="1" height="2" fill="#ff3450"/>
<rect x="509" y="585" width="1" height="3" fill="#ff3450"/>
<rect x="518" y="578" width="1" height="10" fill="#ff3450"/>
<rect x="527" y="574" width="1" height="14" fill="#ff3450"/>
<rect x="536" y="564" width="1" height="24" fill="#ff3450"/>
<rect x="545" y="566" width="1" height="22" fill="#ff3450"/>
<rect x="554" y="568" width="1" height="20" fill="#ff3450"/>
<rect x="563" y="568" width="1" height="20" fill="#ff3450"/>
<rect x="572" y="559" width="1" height="29" fill="#ff3450"/>
<rect x="581" y="556" width="1" height="32" fill="#ff3450"/>
<rect x="590" y="554" width="1" height="34" fill="#ff3450"/>
<rect x="599" y="543" width="1" height="45" fill="#ff3450"/>
<rect x="608" y="542" width="1" height="46" fill="#ff3450"/>
<rect x="617" y="547" width="1" height="41" fill="#ff3450"/>
<rect x="626" y="563" width="1" height="25" fill="#ff3450"/>
<rect x="635" y="577" width="1" height="11" fill="#ff3450"/>
<rect x="644" y="583" width="1" height="5" fill="#ff3450"/>
<rect x="653" y="587" width="1" height="5" fill="#3bc67c"/>
<rect x="662" y="587" width="1" height="18" fill="#3bc67c"/>
<rect x="671" y="587" width="1" height="20" fill="#3bc67c"/>
<rect x="680" y="587" width="1" height="22" fill="#3bc67c"/>
<rect x="689" y="587" width="1" height="17" fill="#3bc67c"/>
<rect x="698" y="587" width="1" height="5" fill="#3bc67c"/>
<rect x="707" y="584" width="1" height="4" fill="#ff3450"/>
<rect x="716" y="581" width="1" height="7" fill="#ff3450"/>
<rect x="725" y="587" width="1" height="2" fill="#3bc67c"/>
<rect x="734" y="587" width="1" height="11" fill="#3bc67c"/>
<rect x="743" y="587" width="1" height="18" fill="#3bc67c"/>
<rect x="752" y="587" width="1" height="12" fill="#3bc67c"/>
<rect x="761" y="587" width="1" height="7" fill="#3bc67c"/>
<rect x="770" y="581" width="1" height="7" fill="#ff3450"/>
<rect x="779" y="576" width="1" height="12" fill="#ff3450"/>
<rect x="788" y="577" width="1" height="11" fill="#ff3450"/>
<rect x="797" y="577" width="1" height="11" fill="#ff3450"/>
<rect x="806" y="567" width="1" height="21" fill="#ff3450"/>
<rect x="815" y="563" width="1" height="25" fill="#ff3450"/>
<rect x="824" y="559" width="1" height="29" fill="#ff3450"/>
<rect x="833" y="560" width="1" height="28" fill="#ff3450"/>
<rect x="842" y="569" width="1" height="19" fill="#ff3450"/>
<rect x="851" y="570" width="1" height="18" fill="#ff3450"/>
<rect x="860" y="571" width="1" height="17" fill="#ff3450"/>
<rect x="869" y="572" width="1" height="16" fill="#ff3450"/>
<rect x="878" y="579" width="1" height="9" fill="#ff3450"/>
<rect x="887" y="581" width="1" height="7" fill="#ff3450"/>
<rect x="896" y="586" width="1" height="2" fill="#ff3450"/>
<rect x="905" y="587" width="1" height="7" fill="#3bc67c"/>
<rect x="914" y="587" width="1" height="13" fill="#3bc67c"/>
<rect x="923" y="587" width="1" height="16" fill="#3bc67c"/>
<rect x="932" y="587" width="1" height="14" fill="#3bc67c"/>
<rect x="941" y="587" width="1" height="17" fill="#3bc67c"/>
<rect x="950" y="587" width="1" height="16" fill="#3bc67c"/>
<rect x="959" y="587" width="1" height="14" fill="#3bc67c"/>
<rect x="968" y="587" width="1" height="14" fill="#3bc67c"/>
<rect x="977" y="587" width="1" height="3" fill="#3bc67c"/>
<rect x="986" y="577" width="1" height="11" fill="#ff3450"/>
<rect x="995" y="571" width="1" height="17" fill="#ff3450"/>
<rect x="1004" y="571" width="1" height="17" fill="#ff3450"/>
<rect x="1013" y="576" width="1" height="12" fill="#ff3450"/>
<rect x="1022" y="573" width="1" height="15" fill="#ff3450"/>
<rect x="1031" y="565" width="1" height="23" fill="#ff3450"/>
<rect x="1040" y="561" width="1" height="27" fill="#ff3450"/>
<rect x="1049" y="554" width="1" height="34" fill="#ff3450"/>
<rect x="1058" y="552" width="1" height="36" fill="#ff3450"/>
<rect x="1067" y="551" width="1" height="37" fill="#ff3450"/>
<rect x="1076" y="556" width="1" height="32" fill="#ff3450"/>
<rect x="1085" y="568" width="1" height="20" fill="#ff3450"/>
<rect x="1094" y="571" width="1" height="17" fill="#ff3450"/>
<rect x="1103" y="576" width="1" height="12" fill="#ff3450"/>
<rect x="1112" y="582" width="1" height="6" fill="#ff3450"/>
<rect x="1121" y="587" width="1" height="2" fill="#3bc67c"/>
</g>
<polyline points="95.5,523.6 104.5,535.6 113.5,540.7 122.5,547.6 131.5,553.6 140.5,555.6 149.5,559.0 158.5,562.7 167.5,560.4 176.5,556.8 185.5,557.9 194.5,555.9 203.5,550.8 212.5,548.4 221.5,541.5 230.5,535.0 239.5,531.2 248.5,534.9 257.5,545.7 266.5,554.0 275.5,558.2 284.5,560.5 293.5,566.0 302.5,569.7 311.5,575.1 320.5,576.1 329.5,580.5 338.5,579.8 347.5,576.4 356.5,585.9 365.5,590.7 374.5,593.7 383.5,594.7 392.5,598.5 401.5,597.2 410.5,597.9 419.5,597.0 428.5,596.3 437.5,591.0 446.5,592.3 455.5,591.5 464.5,592.9 473.5,597.1 482.5,595.9 491.5,595.1 500.5,593.7 509.5,592.8 518.5,588.2 527.5,584.3 536.5,576.4 545.5,575.1 554.5,573.3 563.5,571.1 572.5,563.1 581.5,557.8 590.5,552.4 599.5,541.8 608.5,535.4 617.5,532.9 626.5,538.2 635.5,543.4 644.5,546.0 653.5,550.4 662.5,559.0 671.5,562.5 680.5,566.4 689.5,565.6 698.5,559.9 707.5,556.0 716.5,554.0 725.5,557.3 734.5,563.2 743.5,569.0 752.5,567.4 761.5,565.8 770.5,558.9 779.5,554.9 788.5,554.4 797.5,553.2 806.5,545.3 815.5,540.1 824.5,535.1 833.5,532.0 842.5,534.2 851.5,532.5 860.5,531.1 869.5,529.6 878.5,532.0 887.5,532.1 896.5,535.3 905.5,539.0 914.5,543.4 923.5,547.0 932.5,547.3 941.5,550.7 950.5,552.5 959.5,552.9 968.5,554.2 977.5,549.0 986.5,542.1 995.5,536.8 1004.5,535.0 1013.5,535.8 1022.5,532.9 1031.5,526.2 1040.5,520.8 1049.5,513.1 1058.5,507.8 1067.5,502.5 1076.5,501.3 1085.5,504.7 1094.5,504.1 1103.5,505.4 1112.5,507.7 1121.5,510.5" fill="none" stroke="#f2f2f2" stroke-width="1" shape-rendering="crispEdges" clip-path="url(#cmacd)"/>
<polyline points="95.5,503.6 104.5,510.0 113.5,516.1 122.5,522.4 131.5,528.7 140.5,534.1 149.5,539.0 158.5,543.8 167.5,547.1 176.5,549.0 185.5,550.8 194.5,551.8 203.5,551.6 212.5,551.0 221.5,549.1 230.5,546.3 239.5,543.2 248.5,541.6 257.5,542.4 266.5,544.7 275.5,547.4 284.5,550.0 293.5,553.2 302.5,556.5 311.5,560.2 320.5,563.4 329.5,566.8 338.5,569.4 347.5,570.8 356.5,573.8 365.5,577.2 374.5,580.5 383.5,583.4 392.5,586.4 401.5,588.6 410.5,590.4 419.5,591.7 428.5,592.6 437.5,592.3 446.5,592.3 455.5,592.1 464.5,592.3 473.5,593.3 482.5,593.8 491.5,594.0 500.5,594.0 509.5,593.7 518.5,592.6 527.5,591.0 536.5,588.1 545.5,585.5 554.5,583.0 563.5,580.6 572.5,577.1 581.5,573.3 590.5,569.1 599.5,563.6 608.5,558.0 617.5,553.0 626.5,550.0 635.5,548.7 644.5,548.2 653.5,548.6 662.5,550.7 671.5,553.1 680.5,555.7 689.5,557.7 698.5,558.1 707.5,557.7 716.5,557.0 725.5,557.0 734.5,558.3 743.5,560.4 752.5,561.8 761.5,562.6 770.5,561.9 779.5,560.5 788.5,559.3 797.5,558.0 806.5,555.5 815.5,552.4 824.5,549.0 833.5,545.6 842.5,543.3 851.5,541.1 860.5,539.1 869.5,537.2 878.5,536.2 887.5,535.4 896.5,535.3 905.5,536.1 914.5,537.5 923.5,539.4 932.5,541.0 941.5,542.9 950.5,544.8 959.5,546.5 968.5,548.0 977.5,548.2 986.5,547.0 995.5,544.9 1004.5,543.0 1013.5,541.5 1022.5,539.8 1031.5,537.1 1040.5,533.8 1049.5,529.7 1058.5,525.3 1067.5,520.7 1076.5,516.9 1085.5,514.4 1094.5,512.4 1103.5,511.0 1112.5,510.3 1121.5,510.4" fill="none" stroke="#e2dc1e" stroke-width="1" shape-rendering="crispEdges" clip-path="url(#cmacd)"/>
<polyline points="95.5,737.2 104.5,748.2 113.5,746.1 122.5,748.2 131.5,743.8 140.5,733.1 149.5,729.0 158.5,729.0 167.5,710.6 176.5,703.2 185.5,706.3 194.5,701.4 203.5,692.7 212.5,692.0 221.5,687.5 230.5,687.6 239.5,689.0 248.5,703.0 257.5,724.7 266.5,737.8 275.5,741.8 284.5,741.9 293.5,748.2 302.5,750.2 311.5,754.7 320.5,749.5 329.5,750.9 338.5,730.6 347.5,712.3 356.5,729.5 365.5,735.1 374.5,737.1 383.5,735.7 392.5,741.6 401.5,736.3 410.5,736.9 419.5,734.1 428.5,732.7 437.5,714.7 446.5,721.7 455.5,720.6 464.5,726.7 473.5,739.4 482.5,734.8 491.5,732.1 500.5,728.5 509.5,727.1 518.5,714.4 527.5,703.7 536.5,693.8 545.5,697.7 554.5,698.9 563.5,699.3 572.5,693.1 581.5,690.2 590.5,689.3 599.5,683.7 608.5,685.5 617.5,690.2 626.5,704.3 635.5,717.2 644.5,723.3 653.5,734.7 662.5,743.7 671.5,743.6 680.5,744.8 689.5,737.7 698.5,716.8 707.5,706.6 716.5,704.7 725.5,711.6 734.5,721.5 743.5,730.2 752.5,725.4 761.5,721.0 770.5,706.3 779.5,698.7 788.5,698.5 797.5,695.9 806.5,688.6 815.5,684.5 824.5,683.8 833.5,685.2 842.5,695.0 851.5,693.6 860.5,690.9 869.5,687.0 878.5,692.8 887.5,691.7 896.5,700.3 905.5,707.7 914.5,716.2 923.5,721.5 932.5,712.9 941.5,718.0 950.5,716.5 959.5,709.6 968.5,707.7 977.5,696.8 986.5,690.3 995.5,686.1 1004.5,687.7 1013.5,694.0 1022.5,690.2 1031.5,684.8 1040.5,682.1 1049.5,680.1 1058.5,680.7 1067.5,680.9 1076.5,684.3 1085.5,692.1 1094.5,690.7 1103.5,693.3 1112.5,699.8 1121.5,706.5" fill="none" stroke="#f2f2f2" stroke-width="1" shape-rendering="crispEdges" clip-path="url(#ckdj)"/>
<polyline points="95.5,734.4 104.5,739.7 113.5,741.5 122.5,742.9 131.5,744.3 140.5,740.2 149.5,736.7 158.5,734.0 167.5,726.2 176.5,718.5 185.5,714.5 194.5,710.1 203.5,704.3 212.5,700.2 221.5,696.0 230.5,693.2 239.5,691.8 248.5,695.5 257.5,705.3 266.5,716.1 275.5,724.7 284.5,730.4 293.5,736.4 302.5,741.0 311.5,745.5 320.5,746.8 329.5,748.2 338.5,742.3 347.5,732.3 356.5,731.4 365.5,732.6 374.5,734.1 383.5,734.6 392.5,737.0 401.5,736.7 410.5,736.8 419.5,735.9 428.5,734.8 437.5,728.1 446.5,726.0 455.5,724.2 464.5,725.0 473.5,729.8 482.5,731.5 491.5,731.7 500.5,730.6 509.5,729.4 518.5,724.4 527.5,717.5 536.5,709.6 545.5,705.6 554.5,703.4 563.5,702.0 572.5,699.0 581.5,696.1 590.5,693.8 599.5,690.4 608.5,688.8 617.5,689.3 626.5,694.3 635.5,701.9 644.5,709.0 653.5,717.6 662.5,726.3 671.5,732.1 680.5,736.3 689.5,736.8 698.5,730.1 707.5,722.3 716.5,716.4 725.5,714.8 734.5,717.0 743.5,721.4 752.5,722.8 761.5,722.2 770.5,716.9 779.5,710.8 788.5,706.7 797.5,703.1 806.5,698.3 815.5,693.7 824.5,690.4 833.5,688.7 842.5,690.8 851.5,691.7 860.5,691.4 869.5,689.9 878.5,690.9 887.5,691.2 896.5,694.2 905.5,698.7 914.5,704.5 923.5,710.2 932.5,711.1 941.5,713.4 950.5,714.4 959.5,712.8 968.5,711.1 977.5,706.3 986.5,701.0 995.5,696.0 1004.5,693.2 1013.5,693.5 1022.5,692.4 1031.5,689.9 1040.5,687.3 1049.5,684.9 1058.5,683.5 1067.5,682.6 1076.5,683.2 1085.5,686.1 1094.5,687.7 1103.5,689.6 1112.5,693.0 1121.5,697.5" fill="none" stroke="#e2dc1e" stroke-width="1" shape-rendering="crispEdges" clip-path="url(#ckdj)"/>
<polyline points="95.5,742.9 104.5,767.4 113.5,757.1 122.5,756.2 131.5,744.7 140.5,718.0 149.5,715.4 158.5,719.0 167.5,679.3 176.5,672.6 185.5,690.0 194.5,684.0 203.5,669.6 212.5,675.6 221.5,670.6 230.5,676.5 239.5,683.4 248.5,717.9 257.5,763.7 266.5,781.3 275.5,776.0 284.5,764.9 293.5,771.8 302.5,768.7 311.5,772.9 320.5,754.7 329.5,756.3 338.5,707.1 347.5,672.2 356.5,725.7 365.5,740.1 374.5,743.1 383.5,737.8 392.5,751.0 401.5,735.4 410.5,737.0 419.5,730.6 428.5,728.4 437.5,687.9 446.5,713.2 455.5,713.5 464.5,729.9 473.5,758.6 482.5,741.4 491.5,733.1 500.5,724.3 509.5,722.3 518.5,694.2 527.5,676.1 536.5,662.1 545.5,681.9 554.5,689.9 563.5,693.9 572.5,681.1 581.5,678.5 590.5,680.2 599.5,670.1 608.5,679.0 617.5,692.1 626.5,724.3 635.5,747.7 644.5,751.9 653.5,768.9 662.5,778.6 671.5,766.6 680.5,761.8 689.5,739.4 698.5,690.1 707.5,675.2 716.5,681.3 725.5,705.1 734.5,730.4 743.5,747.8 752.5,730.7 761.5,718.6 770.5,685.3 779.5,674.6 788.5,682.1 797.5,681.5 806.5,669.2 815.5,666.1 824.5,670.6 833.5,678.3 842.5,703.4 851.5,697.3 860.5,689.8 869.5,681.0 878.5,696.5 887.5,692.9 896.5,712.4 905.5,725.7 914.5,739.6 923.5,744.0 932.5,716.5 941.5,727.2 950.5,720.6 959.5,703.1 968.5,701.0 977.5,677.7 986.5,668.8 995.5,666.3 1004.5,676.5 1013.5,694.9 1022.5,685.8 1031.5,674.7 1040.5,671.7 1049.5,670.6 1058.5,675.1 1067.5,677.4 1076.5,686.5 1085.5,704.0 1094.5,696.8 1103.5,700.9 1112.5,713.4 1121.5,724.5" fill="none" stroke="#ee22ee" stroke-width="1" shape-rendering="crispEdges" clip-path="url(#ckdj)"/>
<g fill="none" stroke="#f8bc48" stroke-width="1"><circle cx="193.3" cy="11.3" r="4.3"/><line x1="189" y1="11.5" x2="197.6" y2="11.5"/><line x1="193.5" y1="7" x2="193.5" y2="15.6"/></g>
<g shape-rendering="crispEdges"><rect x="207" y="3" width="11" height="12" fill="#9a9a9a"/><rect x="205" y="1" width="12" height="13" fill="#000080"/><rect x="206" y="2" width="10" height="11" fill="#ffffff"/></g>
<polyline points="206.3,8.7 209.5,4.5 212.5,7.6 215.8,5.6" fill="none" stroke="#ff0000" stroke-width="1"/>
<polyline points="206.3,11.6 209.5,7.4 212.5,10.6 215.8,8.4" fill="none" stroke="#0000ff" stroke-width="1"/>
<g shape-rendering="crispEdges">
<rect x="1088.5" y="1.5" width="13" height="13" fill="#000" stroke="#b4b4b4" stroke-width="1"/>
<rect x="1104.5" y="1.5" width="13" height="13" fill="#000" stroke="#b4b4b4" stroke-width="1"/>
<rect x="1120.5" y="1.5" width="13" height="13" fill="#000" stroke="#b4b4b4" stroke-width="1"/>
<rect x="1136.5" y="1.5" width="13" height="13" fill="#000" stroke="#b4b4b4" stroke-width="1"/>
<g fill="#b4b4b4">
<rect x="1094" y="3" width="2" height="3"/>
<rect x="1094" y="7" width="2" height="2"/>
<rect x="1094" y="10" width="2" height="3"/>
<rect x="1090" y="7" width="3" height="2"/>
<rect x="1097" y="7" width="3" height="2"/>
<rect x="1107" y="3" width="1" height="10"/><rect x="1106" y="4" width="3" height="1"/><rect x="1106" y="11" width="11" height="1"/><rect x="1115" y="10" width="1" height="3"/>
<rect x="1110" y="4" width="1" height="6"/>
</g>
<polygon points="1111.5,7 1114,4.5 1114,9.5" fill="#b4b4b4"/>
<g fill="#b4b4b4"><rect x="1123" y="3" width="1" height="10"/><rect x="1122" y="4" width="3" height="1"/><rect x="1122" y="11" width="11" height="1"/><rect x="1131" y="10" width="1" height="3"/></g>
<polygon points="1126,4 1131.5,7.5 1126,11" fill="#b4b4b4"/>
<rect x="1138.5" y="3.5" width="3" height="9" fill="none" stroke="#b4b4b4" stroke-width="1"/>
<g fill="#b4b4b4"><rect x="1141" y="7" width="4" height="1"/></g>
<polygon points="1144,5 1147.5,7.5 1144,10" fill="#b4b4b4"/>
</g>
<g shape-rendering="crispEdges" fill="#ff0000">
<rect x="28" y="640" width="1" height="2"/>
<rect x="28" y="652" width="1" height="2"/>
<rect x="22" y="646" width="2" height="1"/>
<rect x="34" y="646" width="2" height="1"/>
<rect x="23" y="641" width="1" height="1"/>
<rect x="24" y="642" width="1" height="1"/>
<rect x="34" y="641" width="1" height="1"/>
<rect x="33" y="642" width="1" height="1"/>
<rect x="23" y="652" width="1" height="1"/>
<rect x="24" y="651" width="1" height="1"/>
<rect x="34" y="652" width="1" height="1"/>
<rect x="33" y="651" width="1" height="1"/>
</g>
<circle cx="28.9" cy="646.9" r="3.2" fill="#ffffff"/><circle cx="28.9" cy="646.9" r="2" fill="#ff0000"/>
<polygon points="69.2,787.8 73.4,795.9 65,795.9" fill="#ffc450"/>
<g shape-rendering="crispEdges" fill="#2a2a2a">
<rect x="113" y="782" width="1" height="6"/>
<rect x="320" y="782" width="1" height="6"/>
<rect x="500" y="782" width="1" height="6"/>
<rect x="707" y="782" width="1" height="6"/>
<rect x="905" y="782" width="1" height="6"/>
<rect x="1094" y="782" width="1" height="6"/>
<rect x="89" y="782" width="1" height="18"/>
<rect x="20" y="782" width="1" height="18"/>
</g>
</svg>
<div style="position:absolute;left:0;top:0;width:20px;height:213px;background:#1a1b1f"></div>
<div class="side" style="top:0;height:50px"></div>
<div class="side sel" style="top:51px;height:46px"></div>
<div class="side" style="top:97px;height:52px"></div>
<div class="side" style="top:150px;height:63px"></div>
<div class="sc" style="top:7.2px;color:#c8c8c8;">分</div>
<div class="sc" style="top:21.2px;color:#c8c8c8;">时</div>
<div class="sc" style="top:35.6px;color:#c8c8c8;">图</div>
<div class="sc" style="top:54.9px;color:#ffffff;font-family:'Liberation Serif',serif;">K</div>
<div class="sc" style="top:70.4px;color:#ffffff;">线</div>
<div class="sc" style="top:84.3px;color:#ffffff;">图</div>
<div class="sc" style="top:104.9px;color:#c8c8c8;">闪</div>
<div class="sc" style="top:119.2px;color:#c8c8c8;">电</div>
<div class="sc" style="top:133.1px;color:#c8c8c8;">图</div>
<div class="sc" style="top:156.7px;color:#c8c8c8;">合</div>
<div class="sc" style="top:169.7px;color:#c8c8c8;">约</div>
<div class="sc" style="top:183.7px;color:#c8c8c8;">资</div>
<div class="sc" style="top:197.2px;color:#c8c8c8;">料</div>
<div class="t cjk" style="left:34.5px;top:786px;color:#ffc450;font-weight:bold">日线</div>
<div class="bt" style="left:20px;width:40px">指标</div>
<div class="bt sel" style="left:60px;width:39px">模板</div>
<div class="bt" style="left:99px;width:59px;color:#f0c050">VIP指标</div>
<div class="bt" style="left:158px;width:21px">J</div>
<div class="bt" style="left:179px;width:22px">B</div>
<div class="bt" style="left:201px;width:29px">BB</div>
<div class="bt sel" style="left:230px;width:63px">另存模板</div>
<div class="bt" style="left:293px;width:65px">管理模板</div>
<div class="t" style="right:1134px;top:14.8px;color:#f5283f;text-align:right;font-size:12px;font-weight:normal;letter-spacing:0.3px;">2734.49</div><div class="t" style="left:1154.5px;top:14.8px;color:#f5283f;font-size:12px;font-weight:normal;letter-spacing:0.3px;">2734.49</div><div class="t" style="right:1134px;top:72.1px;color:#f5283f;text-align:right;font-size:12px;font-weight:normal;letter-spacing:0.3px;">2673.32</div><div class="t" style="left:1154.5px;top:72.1px;color:#f5283f;font-size:12px;font-weight:normal;letter-spacing:0.3px;">2673.32</div><div class="t" style="right:1134px;top:129.4px;color:#f5283f;text-align:right;font-size:12px;font-weight:normal;letter-spacing:0.3px;">2612.16</div><div class="t" style="left:1154.5px;top:129.4px;color:#f5283f;font-size:12px;font-weight:normal;letter-spacing:0.3px;">2612.16</div><div class="t" style="right:1134px;top:186.7px;color:#f5283f;text-align:right;font-size:12px;font-weight:normal;letter-spacing:0.3px;">2550.99</div><div class="t" style="left:1154.5px;top:186.7px;color:#f5283f;font-size:12px;font-weight:normal;letter-spacing:0.3px;">2550.99</div><div class="t" style="right:1134px;top:244.0px;color:#f5283f;text-align:right;font-size:12px;font-weight:normal;letter-spacing:0.3px;">2489.83</div><div class="t" style="left:1154.5px;top:244.0px;color:#f5283f;font-size:12px;font-weight:normal;letter-spacing:0.3px;">2489.83</div><div class="t" style="right:1134px;top:301.3px;color:#f5283f;text-align:right;font-size:12px;font-weight:normal;letter-spacing:0.3px;">2428.66</div><div class="t" style="left:1154.5px;top:301.3px;color:#f5283f;font-size:12px;font-weight:normal;letter-spacing:0.3px;">2428.66</div><div class="t" style="right:1134px;top:358.6px;color:#f5283f;text-align:right;font-size:12px;font-weight:normal;letter-spacing:0.3px;">2367.50</div><div class="t" style="left:1154.5px;top:358.6px;color:#f5283f;font-size:12px;font-weight:normal;letter-spacing:0.3px;">2367.50</div><div class="t" style="right:1134px;top:415.9px;color:#f5283f;text-align:right;font-size:12px;font-weight:normal;letter-spacing:0.3px;">2306.33</div><div class="t" style="left:1154.5px;top:415.9px;color:#f5283f;font-size:12px;font-weight:normal;letter-spacing:0.3px;">2306.33</div><div class="t" style="right:1134px;top:494.9px;color:#f5283f;text-align:right;font-size:12px;font-weight:normal;letter-spacing:0.3px;">47.21</div><div class="t" style="left:1154.5px;top:494.9px;color:#f5283f;font-size:12px;font-weight:normal;letter-spacing:0.3px;">47.21</div><div class="t" style="right:1134px;top:518.0px;color:#f5283f;text-align:right;font-size:12px;font-weight:normal;letter-spacing:0.3px;">34.52</div><div class="t" style="left:1154.5px;top:518.0px;color:#f5283f;font-size:12px;font-weight:normal;letter-spacing:0.3px;">34.52</div><div class="t" style="right:1134px;top:541.0px;color:#f5283f;text-align:right;font-size:12px;font-weight:normal;letter-spacing:0.3px;">21.84</div><div class="t" style="left:1154.5px;top:541.0px;color:#f5283f;font-size:12px;font-weight:normal;letter-spacing:0.3px;">21.84</div><div class="t" style="right:1134px;top:564.1px;color:#f5283f;text-align:right;font-size:12px;font-weight:normal;letter-spacing:0.3px;">9.15</div><div class="t" style="left:1154.5px;top:564.1px;color:#f5283f;font-size:12px;font-weight:normal;letter-spacing:0.3px;">9.15</div><div class="t" style="right:1134px;top:587.1px;color:#f5283f;text-align:right;font-size:12px;font-weight:normal;letter-spacing:0.3px;">-3.54</div><div class="t" style="left:1154.5px;top:587.1px;color:#f5283f;font-size:12px;font-weight:normal;letter-spacing:0.3px;">-3.54</div><div class="t" style="right:1134px;top:610.1px;color:#f5283f;text-align:right;font-size:12px;font-weight:normal;letter-spacing:0.3px;">-16.23</div><div class="t" style="left:1154.5px;top:610.1px;color:#f5283f;font-size:12px;font-weight:normal;letter-spacing:0.3px;">-16.23</div><div class="t" style="right:1134px;top:654.5px;color:#f5283f;text-align:right;font-size:12px;font-weight:normal;letter-spacing:0.3px;">109.84</div><div class="t" style="left:1154.5px;top:654.5px;color:#f5283f;font-size:12px;font-weight:normal;letter-spacing:0.3px;">109.84</div><div class="t" style="right:1134px;top:678.3px;color:#f5283f;text-align:right;font-size:12px;font-weight:normal;letter-spacing:0.3px;">85.63</div><div class="t" style="left:1154.5px;top:678.3px;color:#f5283f;font-size:12px;font-weight:normal;letter-spacing:0.3px;">85.63</div><div class="t" style="right:1134px;top:702.2px;color:#f5283f;text-align:right;font-size:12px;font-weight:normal;letter-spacing:0.3px;">61.41</div><div class="t" style="left:1154.5px;top:702.2px;color:#f5283f;font-size:12px;font-weight:normal;letter-spacing:0.3px;">61.41</div><div class="t" style="right:1134px;top:726.0px;color:#f5283f;text-align:right;font-size:12px;font-weight:normal;letter-spacing:0.3px;">37.20</div><div class="t" style="left:1154.5px;top:726.0px;color:#f5283f;font-size:12px;font-weight:normal;letter-spacing:0.3px;">37.20</div><div class="t" style="right:1134px;top:749.8px;color:#f5283f;text-align:right;font-size:12px;font-weight:normal;letter-spacing:0.3px;">12.98</div><div class="t" style="left:1154.5px;top:749.8px;color:#f5283f;font-size:12px;font-weight:normal;letter-spacing:0.3px;">12.98</div><div class="t cjk" style="left:91px;top:3px;color:#ececec">现货黄金</div><div class="t cjk" style="left:140px;top:3px;color:#f8bc48">【日线】</div><div class="t" style="left:220px;top:3.1px;color:#ececec;letter-spacing:0.2px">BOLL(26,2) MID:2582.15</div><div class="t" style="left:367px;top:3.1px;color:#d8d828">UPPER:2715.60</div><div class="t" style="left:461px;top:3.1px;color:#e02ae0">LOWER:2448.70</div><div class="t" style="left:92.5px;top:483.7px;color:#ececec">MACD(26,12,9) DIFF:42.09</div><div class="t" style="left:249.5px;top:483.7px;color:#d8d828">DEA:42.18</div><div class="t" style="left:315px;top:483.7px;color:#e02ae0;letter-spacing:0.25px">MACD:-0.17</div><div class="t" style="left:92.5px;top:643.8px;color:#ececec">KDJ(9,3,3) K:65.08</div><div class="t" style="left:204px;top:643.8px;color:#d8d828">D:74.01</div><div class="t" style="left:254px;top:643.8px;color:#e02ae0">J:47.22</div><div class="t" style="left:235.5px;top:274.6px;color:#f23a50;font-weight:bold">2449.88</div><div class="t" style="left:1072.5px;top:53.5px;color:#f23a50;font-weight:bold">2685.49</div><div class="t" style="left:136px;top:451.6px;color:#3cc97f;font-weight:bold">2277.18</div><div class="t" style="left:115px;top:783.6px;color:#c4c8ce;letter-spacing:0.2px;-webkit-text-stroke:0.45px #c4c8ce">2024/05</div><div class="t" style="left:322.5px;top:783.6px;color:#c4c8ce;letter-spacing:0.2px;-webkit-text-stroke:0.45px #c4c8ce">2024/06</div><div class="t" style="left:502.5px;top:783.6px;color:#c4c8ce;letter-spacing:0.2px;-webkit-text-stroke:0.45px #c4c8ce">2024/07</div><div class="t" style="left:709px;top:783.6px;color:#c4c8ce;letter-spacing:0.2px;-webkit-text-stroke:0.45px #c4c8ce">2024/08</div><div class="t" style="left:907px;top:783.6px;color:#c4c8ce;letter-spacing:0.2px;-webkit-text-stroke:0.45px #c4c8ce">2024/09</div><div class="t" style="left:1096.5px;top:783.6px;color:#c4c8ce;letter-spacing:0.2px;-webkit-text-stroke:0.45px #c4c8ce">2024/10</div>
<div class="t" style="left:1093px;top:766px;font-size:30px;line-height:30px;color:#f0f2f8;letter-spacing:2.4px">FX678</div>
</div></body></html>
